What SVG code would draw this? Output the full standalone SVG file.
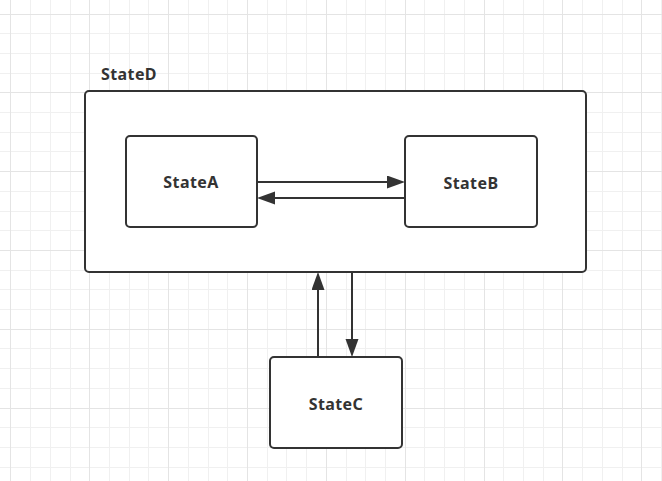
<svg xmlns="http://www.w3.org/2000/svg" width="662" height="481" viewBox="0 0 662 481">
  <style>
    .minor { stroke: #f0f0f0; stroke-width: 1; fill: none; }
    .major { stroke: #e4e4e4; stroke-width: 1; fill: none; }
    .node { fill: #ffffff; stroke: #333333; stroke-width: 2; }
    .label { font-family: "Noto Sans", "Open Sans", "DejaVu Sans", sans-serif; font-weight: bold; font-size: 16px; letter-spacing: 0.4px; fill: #333333; }
    .edge { stroke: #333333; stroke-width: 2; fill: none; marker-end: url(#arrow); }
  </style>
  <defs>
    <marker id="arrow" markerUnits="userSpaceOnUse" markerWidth="18" markerHeight="14" refX="8" refY="6.5" orient="auto">
      <path d="M0,0 L18,6.5 L0,13 Z" fill="#333333"/>
    </marker>
  </defs>
  <rect x="0" y="0" width="662" height="481" fill="#ffffff"/>
  <g id="grid">
    <path class="minor" d="M30.5,0V481 M50.5,0V481 M70.5,0V481 M109.5,0V481 M129.5,0V481 M148.5,0V481 M188.5,0V481 M208.5,0V481 M227.5,0V481 M267.5,0V481 M286.5,0V481 M306.5,0V481 M346.5,0V481 M365.5,0V481 M385.5,0V481 M424.5,0V481 M444.5,0V481 M464.5,0V481 M503.5,0V481 M523.5,0V481 M543.5,0V481 M582.5,0V481 M602.5,0V481 M622.5,0V481 M661.5,0V481
      M0,33.5H662 M0,53.5H662 M0,73.5H662 M0,112.5H662 M0,132.5H662 M0,151.5H662 M0,191.5H662 M0,211.5H662 M0,230.5H662 M0,270.5H662 M0,289.5H662 M0,309.5H662 M0,348.5H662 M0,368.5H662 M0,388.5H662 M0,427.5H662 M0,447.5H662 M0,467.5H662"/>
    <path class="major" d="M10.5,0V481 M89.5,0V481 M168.5,0V481 M247.5,0V481 M326.5,0V481 M405.5,0V481 M484.5,0V481 M562.5,0V481 M641.5,0V481
      M0,14.5H662 M0,92.5H662 M0,171.5H662 M0,250.5H662 M0,329.5H662 M0,408.5H662"/>
  </g>
  <g id="StateD">
    <rect class="node" x="85" y="91" width="501" height="181" rx="4"/>
    <text class="label" x="101" y="80">StateD</text>
  </g>
  <g id="StateA">
    <rect class="node" x="126" y="136" width="131" height="91" rx="4"/>
    <text class="label" x="191" y="188" text-anchor="middle">StateA</text>
  </g>
  <g id="StateB">
    <rect class="node" x="405" y="136" width="132" height="91" rx="4"/>
    <text class="label" x="471" y="189" text-anchor="middle">StateB</text>
  </g>
  <g id="StateC">
    <rect class="node" x="270" y="357" width="132" height="91" rx="4"/>
    <text class="label" x="336" y="410" text-anchor="middle">StateC</text>
  </g>
  <g id="connectors">
    <path class="edge" d="M257,182 H395"/>
    <path class="edge" d="M405,198 H267"/>
    <path class="edge" d="M318,357 V282"/>
    <path class="edge" d="M352,272 V347"/>
  </g>
</svg>
